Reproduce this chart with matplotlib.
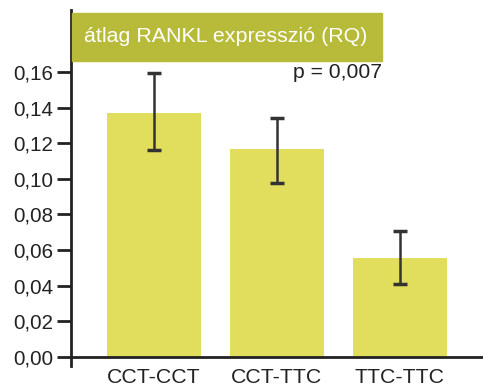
import matplotlib.pyplot as plt
from matplotlib.patches import Rectangle

plt.rcParams['font.family'] = ['Liberation Sans', 'DejaVu Sans']

genotypes = ['CCT-CCT', 'CCT-TTC', 'TTC-TTC']
rankl_mean = [0.1372, 0.1170, 0.0558]
err_low = [0.1163, 0.0976, 0.0410]
err_high = [0.1597, 0.1344, 0.0708]
yticks = [0.00, 0.02, 0.04, 0.06, 0.08, 0.10, 0.12, 0.14, 0.16]
title = 'átlag RANKL expresszió (RQ)'
p_text = 'p = 0,007'

W, H = 483, 388
fig = plt.figure(figsize=(W / 100, H / 100), dpi=100)
ax = fig.add_axes([71 / W, 1 - 366 / H, 1 - 71 / W, 356 / H])

x = range(len(genotypes))
lower = [m - lo for m, lo in zip(rankl_mean, err_low)]
upper = [hi - m for m, hi in zip(rankl_mean, err_high)]
ax.bar(x, rankl_mean, width=0.765, color='#e0de5c', zorder=1)
ax.errorbar(x, rankl_mean, yerr=[lower, upper], fmt='none', ecolor='#333333',
            elinewidth=1.8, capsize=5, capthick=2.5, zorder=2)

ax.set_xlim(-0.675, 2.675)
ax.set_ylim(-0.0052, 0.195)
ax.spines['top'].set_visible(False)
ax.spines['right'].set_visible(False)
ax.spines['bottom'].set_position(('data', 0))
for s in ('left', 'bottom'):
    ax.spines[s].set_linewidth(2)
    ax.spines[s].set_color('#222222')

ax.set_yticks(yticks)
ax.set_yticklabels([f'{v:.2f}'.replace('.', ',') for v in yticks])
ax.set_xticks(list(x))
ax.set_xticklabels(genotypes)
ax.tick_params(axis='y', direction='out', length=10, width=2, color='#222222',
               labelsize=14.8, pad=3, labelcolor='#222222')
ax.tick_params(axis='x', length=0, labelsize=15.3, pad=8, labelcolor='#222222')

# olive header box with white title
fig.patches.append(Rectangle((72 / W, 1 - 61 / H), 310 / W, 48 / H,
                             transform=fig.transFigure, color='#b8bb3a', zorder=3))
fig.text(84 / W, 1 - 37 / H, title, color='white', fontsize=15.4,
         ha='left', va='center', zorder=4)
fig.text(382 / W, 1 - 73 / H, p_text, color='#222222', fontsize=15.2,
         ha='right', va='center')

fig.savefig('out.png', dpi=100)
